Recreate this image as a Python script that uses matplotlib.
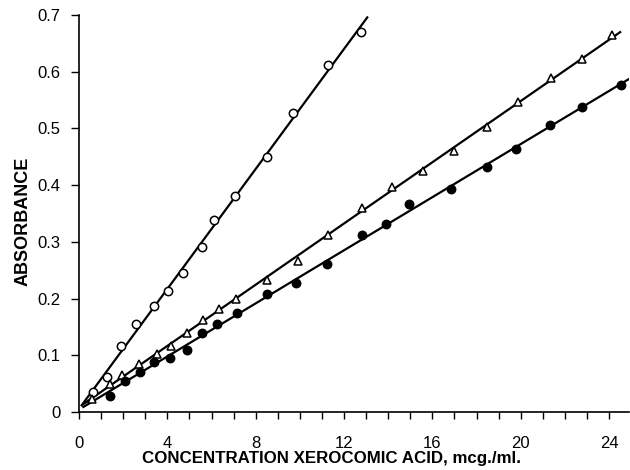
import numpy as np
import matplotlib
matplotlib.use('Agg')
import matplotlib.pyplot as plt

plt.rcParams['font.family'] = ['Liberation Sans', 'DejaVu Sans']

# open circles
open_x = [0.65, 1.25, 1.9, 2.6, 3.4, 4.04, 4.72, 5.55, 6.13, 7.06, 8.49, 9.7, 11.28, 12.76]
open_y = [0.036, 0.062, 0.117, 0.155, 0.186, 0.214, 0.245, 0.29, 0.339, 0.38, 0.45, 0.527, 0.611, 0.669]

# open triangles
tri_x = [0.6, 1.4, 1.93, 2.71, 3.51, 4.16, 4.87, 5.6, 6.33, 7.09, 8.49, 9.9, 11.28,
         12.79, 14.18, 15.58, 16.97, 18.45, 19.88, 21.36, 22.75, 24.15]
tri_y = [0.023, 0.05, 0.065, 0.084, 0.103, 0.117, 0.14, 0.162, 0.181, 0.2, 0.233, 0.267, 0.312,
         0.359, 0.397, 0.424, 0.46, 0.502, 0.546, 0.589, 0.622, 0.665]

# filled circles
dot_x = [1.4, 2.08, 2.76, 3.41, 4.12, 4.87, 5.55, 6.27, 7.16, 8.52, 9.82, 11.25,
         12.79, 13.88, 14.95, 16.86, 18.45, 19.8, 21.31, 22.77, 24.55]
dot_y = [0.029, 0.054, 0.071, 0.089, 0.096, 0.109, 0.14, 0.155, 0.174, 0.208, 0.228, 0.261,
         0.312, 0.332, 0.367, 0.393, 0.431, 0.464, 0.506, 0.537, 0.576]

# x range of the drawn regression lines
open_range = [0.12, 13.05]
tri_range = [0.2, 24.5]
dot_range = [0.2, 24.95]

xticks = [0, 4, 8, 12, 16, 20, 24]
yticks = [0, 0.1, 0.2, 0.3, 0.4, 0.5, 0.6, 0.7]
ylabels = ['0', '0.1', '0.2', '0.3', '0.4', '0.5', '0.6', '0.7']

fig = plt.figure(figsize=(6.3, 4.7), dpi=100)
ax = fig.add_axes([0.1254, 0.1234, 0.873, 0.845])

series = [
    (open_x, open_y, open_range, 'o', 'white'),
    (tri_x, tri_y, tri_range, '^', 'white'),
    (dot_x, dot_y, dot_range, 'o', 'black'),
]
for xs, ys, rng, mk, fc in series:
    k, b = np.polyfit(xs, ys, 1)
    lx = np.array(rng)
    ax.plot(lx, k * lx + b, color='black', lw=1.6, zorder=2)
    ax.plot(xs, ys, mk, ms=6, mfc=fc, mec='black', mew=1.1, zorder=3, clip_on=False)

ax.set_xlim(0, 24.9)
ax.set_ylim(0, 0.7)
for s in ['top', 'right']:
    ax.spines[s].set_visible(False)
ax.spines['left'].set_linewidth(1.2)
ax.spines['bottom'].set_linewidth(1.2)

ax.set_xticks(xticks)
ax.set_xticks(np.arange(0, 25, 1), minor=True)
ax.set_yticks(yticks)
ax.set_yticklabels(ylabels)
ax.tick_params(axis='x', which='both', direction='out', length=5, width=1, labelsize=12, pad=12)
ax.tick_params(axis='y', direction='out', length=6, width=1, labelsize=12, pad=7.5)

ax.set_xlabel('CONCENTRATION XEROCOMIC ACID, mcg./ml.', fontsize=12.2, fontweight='bold')
ax.set_ylabel('ABSORBANCE', fontsize=13, fontweight='bold')
ax.xaxis.set_label_coords(0.46, -0.097)
ax.yaxis.set_label_coords(-0.086, 0.479)

fig.savefig('out.png', dpi=100)
